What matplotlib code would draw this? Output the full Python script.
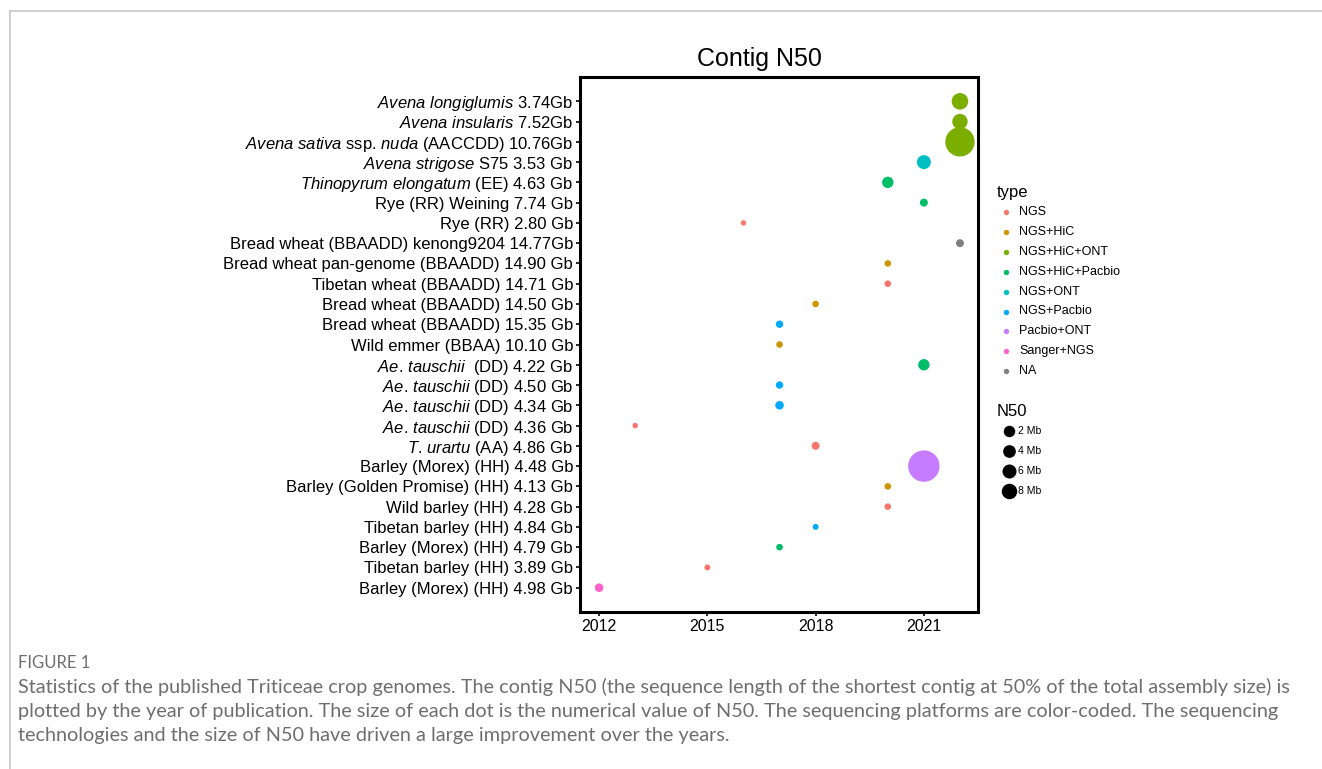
import numpy as np
import matplotlib
matplotlib.use("Agg")
import matplotlib.pyplot as plt

plt.rcParams['font.family'] = ['Liberation Sans', 'DejaVu Sans']
plt.rcParams['mathtext.fontset'] = 'custom'
plt.rcParams['mathtext.rm'] = 'Liberation Sans'
plt.rcParams['mathtext.it'] = 'Liberation Sans:italic'

# genomes, top to bottom
genomes = [
    r"$\mathit{Avena\ longiglumis}$ 3.74Gb",
    r"$\mathit{Avena\ insularis}$ 7.52Gb",
    r"$\mathit{Avena\ sativa}$ ssp. $\mathit{nuda}$ (AACCDD) 10.76Gb",
    r"$\mathit{Avena\ strigose}$ S75 3.53 Gb",
    r"$\mathit{Thinopyrum\ elongatum}$ (EE) 4.63 Gb",
    "Rye (RR) Weining 7.74 Gb",
    "Rye (RR) 2.80 Gb",
    "Bread wheat (BBAADD) kenong9204 14.77Gb",
    "Bread wheat pan-genome (BBAADD) 14.90 Gb",
    "Tibetan wheat (BBAADD) 14.71 Gb",
    "Bread wheat (BBAADD) 14.50 Gb",
    "Bread wheat (BBAADD) 15.35 Gb",
    "Wild emmer (BBAA) 10.10 Gb",
    r"$\mathit{Ae}$. $\mathit{tauschii}$  (DD) 4.22 Gb",
    r"$\mathit{Ae}$. $\mathit{tauschii}$ (DD) 4.50 Gb",
    r"$\mathit{Ae}$. $\mathit{tauschii}$ (DD) 4.34 Gb",
    r"$\mathit{Ae}$. $\mathit{tauschii}$ (DD) 4.36 Gb",
    r"$\mathit{T}$. $\mathit{urartu}$ (AA) 4.86 Gb",
    "Barley (Morex) (HH) 4.48 Gb",
    "Barley (Golden Promise) (HH) 4.13 Gb",
    "Wild barley (HH) 4.28 Gb",
    "Tibetan barley (HH) 4.84 Gb",
    "Barley (Morex) (HH) 4.79 Gb",
    "Tibetan barley (HH) 3.89 Gb",
    "Barley (Morex) (HH) 4.98 Gb",
]
years = [2022, 2022, 2022, 2021, 2020, 2021, 2016, 2022, 2020, 2020, 2018, 2017, 2017,
         2021, 2017, 2017, 2013, 2018, 2021, 2020, 2020, 2018, 2017, 2015, 2012]
types = ["NGS+HiC+ONT", "NGS+HiC+ONT", "NGS+HiC+ONT", "NGS+ONT", "NGS+HiC+Pacbio",
         "NGS+HiC+Pacbio", "NGS", "NA", "NGS+HiC", "NGS", "NGS+HiC", "NGS+Pacbio", "NGS+HiC",
         "NGS+HiC+Pacbio", "NGS+Pacbio", "NGS+Pacbio", "NGS", "NGS", "Pacbio+ONT", "NGS+HiC",
         "NGS", "NGS+Pacbio", "NGS+HiC+Pacbio", "NGS", "Sanger+NGS"]
# contig N50 (Mb)
n50 = [19.5, 16.8, 61, 13.9, 9.2, 4.5, 2.1, 4.5, 3.1, 3.1, 3.1, 3.9, 3.1,
       9.2, 3.9, 5.2, 2.1, 4.5, 70, 3.1, 3.1, 2.5, 3.1, 2.5, 5.2]

type_names = ["NGS", "NGS+HiC", "NGS+HiC+ONT", "NGS+HiC+Pacbio", "NGS+ONT",
              "NGS+Pacbio", "Pacbio+ONT", "Sanger+NGS", "NA"]
type_colors = ["#F8766D", "#CD9600", "#7CAE00", "#00BE67", "#00BFC4",
               "#00A9FF", "#C77CFF", "#FF61CC", "#7F7F7F"]
legend_sizes = ["2 Mb", "4 Mb", "6 Mb", "8 Mb"]
legend_s = [68, 84, 102, 124]

year_ticks = [2012, 2015, 2018, 2021]

caption_lines = [
    "Statistics of the published Triticeae crop genomes. The contig N50 (the sequence length of the shortest contig at 50% of the total assembly size) is",
    "plotted by the year of publication. The size of each dot is the numerical value of N50. The sequencing platforms are color-coded. The sequencing",
    "technologies and the size of N50 have driven a large improvement over the years.",
]

W, H = 1322, 769
fig = plt.figure(figsize=(W / 100, H / 100), dpi=100)
ax = fig.add_axes([580 / W, 1 - 612 / H, (978 - 580) / W, (612 - 77) / H])

cmap = dict(zip(type_names, type_colors))
ypos = np.arange(len(genomes))
ax.scatter(years, ypos, s=np.array(n50) * 7.3, c=[cmap[t] for t in types],
           linewidths=0, zorder=3)

ax.set_xlim(2011.47, 2022.5)
ax.set_ylim(len(genomes) - 1 + 1.2, -1.2)
ax.set_xticks(year_ticks)
ax.set_xticklabels([str(y) for y in year_ticks], fontsize=11.5)
ax.set_yticks(ypos)
ax.set_yticklabels(genomes, fontsize=12)
ax.tick_params(length=3, width=1.2, pad=2)
for sp in ax.spines.values():
    sp.set_linewidth(2.2)
ax.set_title("Contig N50", fontsize=18, x=0.452, pad=8)

# overlay in pixel coordinates for page frame, legends and caption
ov = fig.add_axes([0, 0, 1, 1], zorder=-1)
ov.set_xlim(0, W)
ov.set_ylim(H, 0)
ov.axis("off")
ov.plot([10, W], [11, 11], color="#c8c8c8", lw=1.2)
ov.plot([10, 10], [11, H], color="#c8c8c8", lw=1.2)

ov.text(997, 193, "type", fontsize=12, va="center", ha="left")
for i, (name, col) in enumerate(zip(type_names, type_colors)):
    yy = 212 + i * 19.9
    ov.scatter([1006], [yy], s=15, color=col, linewidths=0)
    ov.text(1019, yy, name, fontsize=9, va="center", ha="left")

ov.text(997, 411, "N50", fontsize=12, va="center", ha="left")
for i, (lab, s) in enumerate(zip(legend_sizes, legend_s)):
    yy = 431 + i * 20
    ov.scatter([1009], [yy], s=s, color="black", linewidths=0)
    ov.text(1018, yy, lab, fontsize=7.5, va="center", ha="left")

cap_font = ['Lato', 'DejaVu Sans']
ov.text(18, 663, "FIGURE 1", fontsize=12, color="#6e6e6e", family=cap_font,
        va="center", ha="left")
for i, line in enumerate(caption_lines):
    ov.text(18, 687 + i * 24, line, fontsize=14.3, color="#6e6e6e", family=cap_font,
            va="center", ha="left")

fig.savefig("out.png", dpi=100)
